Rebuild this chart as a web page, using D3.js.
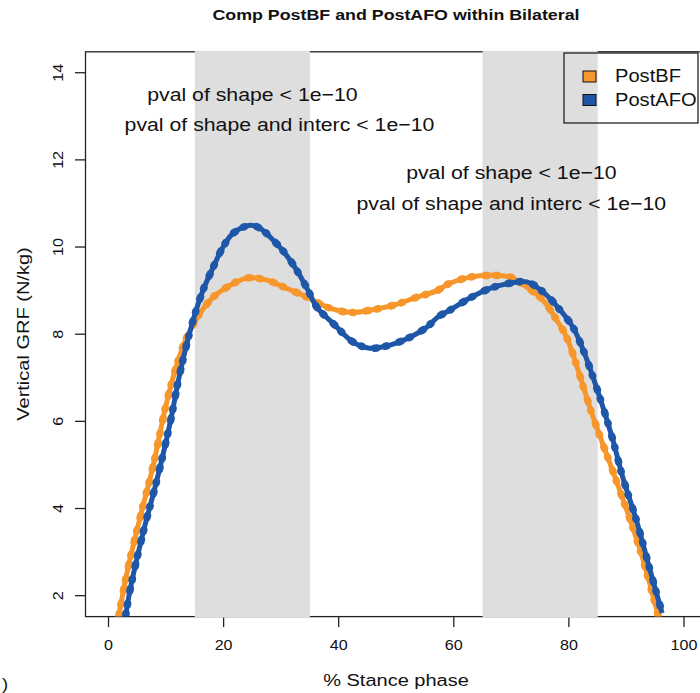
<!DOCTYPE html>
<html>
<head>
<meta charset="utf-8">
<script src="https://cdn.jsdelivr.net/npm/d3@7"></script>
<style>
  body { margin: 0; background: #fff; }
  svg { display: block; font-family: "Liberation Sans", Arial, sans-serif; }
</style>
</head>
<body>
<div id="chart"></div>
<script>
// Percent of stance phase and vertical GRF (N/kg)
var pctBF = [1.8, 3.2, 5.5, 7.7, 10.2, 12.4, 13.6, 15.9, 18.2, 20.6, 24.1, 27.5, 31, 34.5, 38, 42,
             45.4, 49.4, 53.6, 57.1, 59.3, 62.8, 66.3, 69.8, 72.7, 75.5, 77.9, 79.6, 84.2, 88.4, 92.4, 95.5];
var grfBF = [1.55, 2.52, 3.8, 4.95, 6.49, 7.52, 7.93, 8.48, 8.85, 9.08, 9.29, 9.24, 9.05, 8.85, 8.62, 8.5,
             8.55, 8.66, 8.85, 9.0, 9.17, 9.31, 9.35, 9.31, 9.08, 8.78, 8.32, 7.93, 6.1, 4.58, 3.04, 1.55];

var pctAFO = [3.0, 3.7, 6.0, 8.4, 10.7, 12.4, 14.7, 16.4, 18.2, 19.9, 21.6, 24.6, 26.3, 28.6, 30.7, 32.7,
              34.7, 36.2, 39, 42.5, 45.4, 48.9, 52.4, 55.3, 57.3, 59.3, 62.8, 66.3, 69.8, 72.7, 75.5, 78.5,
              80.7, 82.3, 85, 87.5, 89.4, 91.8, 94.1, 96.2];
var grfAFO = [1.55, 2.1, 3.44, 4.65, 5.96, 7.1, 8.32, 9.0, 9.54, 10.0, 10.31, 10.5, 10.43, 10.16, 9.85, 9.47,
              9.0, 8.62, 8.25, 7.82, 7.68, 7.75, 7.93, 8.16, 8.4, 8.55, 8.83, 9.05, 9.17, 9.2, 8.97, 8.55,
              8.16, 7.7, 6.7, 5.64, 4.7, 3.7, 2.59, 1.6];

var seriesNames = ["PostBF", "PostAFO"];
var seriesColors = ["#f7962b", "#1e56a8"];

var xTicks = [0, 20, 40, 60, 80, 100];
var yTicks = [2, 4, 6, 8, 10, 12, 14];

// shaded windows (% stance)
var bandStart = [15, 65];
var bandEnd = [35, 85];

var annText = ["pval of shape < 1e\u221210", "pval of shape and interc < 1e\u221210",
               "pval of shape < 1e\u221210", "pval of shape and interc < 1e\u221210"];
var annX = [25, 29.7, 70, 70];
var annY = [13.5, 12.8, 11.7, 11.0];

var W = 700, H = 693;
var SX = 1.15; // horizontal text stretch seen in the source image

var svg = d3.select("#chart").append("svg").attr("width", W).attr("height", H);

// R style: 4% padding round xlim = c(0,100), ylim = c(2,14)
var x = d3.scaleLinear().domain([-4, 104]).range([85.5, 707]);
var y = d3.scaleLinear().domain([1.52, 14.48]).range([616.6, 51.8]);

function txt(px, py, str, size, opt) {
  opt = opt || {};
  return svg.append("text")
    .attr("transform", "translate(" + px + "," + py + ")" + (opt.rot ? " rotate(" + opt.rot + ")" : "") + " scale(" + SX + ",1)")
    .attr("text-anchor", opt.anchor || "middle")
    .attr("dy", opt.dy || null)
    .style("font-size", size + "px")
    .style("font-weight", opt.bold ? "bold" : null)
    .attr("fill", "#111")
    .text(str);
}

// frame
svg.append("rect")
  .attr("x", x(-4)).attr("y", y(14.48))
  .attr("width", x(104) - x(-4)).attr("height", y(1.52) - y(14.48))
  .attr("fill", "none").attr("stroke", "#222").attr("stroke-width", 1.3);

// y axis ticks
yTicks.forEach(function (t) {
  svg.append("line").attr("x1", x(-4) - 10.5).attr("x2", x(-4))
    .attr("y1", y(t)).attr("y2", y(t)).attr("stroke", "#222").attr("stroke-width", 1.3);
  txt(63, y(t), t, 14, { rot: -90 });
});

// x axis ticks
xTicks.forEach(function (t) {
  svg.append("line").attr("x1", x(t)).attr("x2", x(t))
    .attr("y1", y(1.52)).attr("y2", y(1.52) + 10.5).attr("stroke", "#222").attr("stroke-width", 1.3);
  txt(x(t), 650, t, 14);
});

// grey windows drawn over the frame, as in the original
bandStart.forEach(function (b, i) {
  svg.append("rect")
    .attr("x", x(b)).attr("y", y(14.48) - 1)
    .attr("width", x(bandEnd[i]) - x(b)).attr("height", y(1.52) - y(14.48) + 2)
    .attr("fill", "#dedede");
});

// curves
var line = d3.line()
  .x(function (d) { return x(d[0]); })
  .y(function (d) { return y(d[1]); })
  .curve(d3.curveCatmullRom.alpha(0.5));

var curves = [d3.zip(pctBF, grfBF), d3.zip(pctAFO, grfAFO)];

svg.append("clipPath").attr("id", "plotclip").append("rect")
  .attr("x", x(-4)).attr("y", y(14.48)).attr("width", x(104) - x(-4)).attr("height", y(1.52) - y(14.48));

var plot = svg.append("g").attr("clip-path", "url(#plotclip)");

curves.forEach(function (c, i) {
  plot.append("path").datum(c).attr("d", line)
    .attr("fill", "none").attr("stroke", seriesColors[i]).attr("stroke-width", 5);
  // little bulges along the line
  plot.append("path").datum(c).attr("d", line)
    .attr("fill", "none").attr("stroke", seriesColors[i]).attr("stroke-width", 7.5)
    .attr("stroke-linecap", "round").attr("stroke-dasharray", "2 9 1 13");
});

// annotations
annText.forEach(function (s, i) {
  txt(x(annX[i]), y(annY[i]), s, 18.5, { dy: "0.35em" });
});

// legend (no fill, grey shows through)
svg.append("rect").attr("x", 564).attr("y", 53).attr("width", 134).attr("height", 70)
  .attr("fill", "none").attr("stroke", "#222").attr("stroke-width", 1.3);
seriesNames.forEach(function (n, i) {
  svg.append("rect").attr("x", 583).attr("y", 71 + i * 23.5).attr("width", 13).attr("height", 11)
    .attr("fill", seriesColors[i]).attr("stroke", "#111").attr("stroke-width", 1);
  txt(615, 82 + i * 24, n, 17.5, { anchor: "start" });
});

// titles
txt(396, 20, "Comp PostBF and PostAFO within Bilateral", 15.5, { bold: true });
txt(396, 686, "% Stance phase", 17.4);
txt(29, 334, "Vertical GRF (N/kg)", 17.4, { rot: -90 });

// stray panel letter from the corner of the source image
txt(2, 690, ")", 16, { anchor: "start" });
</script>
</body>
</html>
